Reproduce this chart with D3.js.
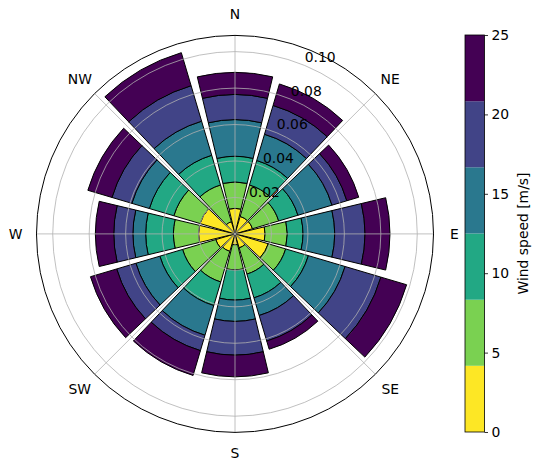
<!DOCTYPE html>
<html lang="en">
<head>
<meta charset="UTF-8">
<script src="https://d3js.org/d3.v7.min.js"></script>
<title>Wind rose</title>
<style>
  body { margin: 0; background: #fff; }
  text { font-family: "DejaVu Sans", sans-serif; font-size: 13.9px; fill: #000; }
</style>
</head>
<body>
<svg id="rose" width="541" height="469"></svg>
<script>
// bar directions (degrees clockwise from north)
const directions = [0, 30, 60, 90, 120, 150, 180, 210, 240, 270, 300, 330];
const compassLabels = ['N', 'NE', 'E', 'SE', 'S', 'SW', 'W', 'NW'];
const compassAngles = [0, 45, 90, 135, 180, 225, 270, 315];
const radialTicks = [0.02, 0.04, 0.06, 0.08, 0.10];
const speedEdges = [0, 4.17, 8.33, 12.5, 16.67, 20.83, 25];
const colorbarTicks = [0, 5, 10, 15, 20, 25];

// relative frequency per speed bin, one value per direction
const bin0 = [0.0140, 0.0100, 0.0100, 0.0165, 0.0190, 0.0080, 0.0060, 0.0100, 0.0110, 0.0200, 0.0200, 0.0070];
const bin1 = [0.0145, 0.0180, 0.0150, 0.0122, 0.0100, 0.0150, 0.0138, 0.0175, 0.0190, 0.0138, 0.0150, 0.0210];
const bin2 = [0.0141, 0.0140, 0.0110, 0.0086, 0.0130, 0.0136, 0.0165, 0.0135, 0.0130, 0.0152, 0.0140, 0.0170];
const bin3 = [0.0201, 0.0150, 0.0195, 0.0174, 0.0210, 0.0101, 0.0117, 0.0170, 0.0137, 0.0070, 0.0100, 0.0195];
const bin4 = [0.0138, 0.0165, 0.0085, 0.0166, 0.0205, 0.0146, 0.0185, 0.0088, 0.0110, 0.0105, 0.0114, 0.0203];
const bin5 = [0.0121, 0.0123, 0.0068, 0.0137, 0.0147, 0.0047, 0.0119, 0.0142, 0.0150, 0.0101, 0.0138, 0.0189];
const bins = [bin0, bin1, bin2, bin3, bin4, bin5];

const svg = d3.select('svg#rose');
const cx = 235, cy = 233.9;
const outerR = 198.5;
const rMax = 0.1089;

const rScale = d3.scaleLinear().domain([0, rMax]).range([0, outerR]);
const toRad = d3.scaleLinear().domain([0, 360]).range([0, 2 * Math.PI]);
const color = i => d3.interpolateViridis(1 - i / (bins.length - 1));

// table for d3.stack
const keys = bins.map((b, i) => 'b' + i);
const rows = directions.map((d, j) => {
    const row = {dir: d};
    bins.forEach((b, i) => row['b' + i] = b[j]);
    return row;
});
const stacked = d3.stack().keys(keys)(rows);

const polar = svg.append('g').attr('transform', `translate(${cx},${cy})`);

const halfWidth = 0.9 * 360 / directions.length / 2;
const arc = d3.arc()
    .innerRadius(d => rScale(d[0]))
    .outerRadius(d => rScale(d[1]))
    .startAngle(d => toRad(d.data.dir - halfWidth))
    .endAngle(d => toRad(d.data.dir + halfWidth));

stacked.forEach((layer, i) => {
    polar.append('g')
        .selectAll('path')
        .data(layer)
        .enter()
        .append('path')
        .attr('d', arc)
        .attr('fill', color(i))
        .attr('stroke', '#000')
        .attr('stroke-width', 1)
        .attr('stroke-linejoin', 'miter');
});

// gridlines on top of bars (matplotlib default)
polar.append('g')
    .selectAll('circle')
    .data(radialTicks)
    .enter()
    .append('circle')
    .attr('r', d => rScale(d))
    .attr('fill', 'none')
    .attr('stroke', '#b0b0b0')
    .attr('stroke-width', 0.8);

polar.append('g')
    .selectAll('line')
    .data(compassAngles)
    .enter()
    .append('line')
    .attr('x1', 0).attr('y1', 0)
    .attr('x2', d => outerR * Math.sin(toRad(d)))
    .attr('y2', d => -outerR * Math.cos(toRad(d)))
    .attr('stroke', '#b0b0b0')
    .attr('stroke-width', 0.8);

// outer spine
polar.append('circle')
    .attr('r', outerR)
    .attr('fill', 'none')
    .attr('stroke', '#000')
    .attr('stroke-width', 1);

// compass labels
const labelR = outerR + 21;
polar.append('g')
    .selectAll('text')
    .data(compassLabels)
    .enter()
    .append('text')
    .attr('x', (d, i) => labelR * Math.sin(toRad(compassAngles[i])))
    .attr('y', (d, i) => -labelR * Math.cos(toRad(compassAngles[i])))
    .attr('dy', '0.36em')
    .attr('text-anchor', 'middle')
    .text(d => d);

// radial tick labels along 22.5 degrees
const rLabelAngle = toRad(22.5);
polar.append('g')
    .selectAll('text')
    .data(radialTicks)
    .enter()
    .append('text')
    .attr('x', d => rScale(d) * Math.sin(rLabelAngle))
    .attr('y', d => -rScale(d) * Math.cos(rLabelAngle) - 3.5)
    .attr('text-anchor', 'start')
    .text(d => d.toFixed(2));

// colorbar
const cbX = 465, cbW = 19.5;
const cbScale = d3.scaleLinear().domain([0, 25]).range([432, 35]);
const cb = svg.append('g');
cb.selectAll('rect')
    .data(d3.pairs(speedEdges))
    .enter()
    .append('rect')
    .attr('x', cbX)
    .attr('width', cbW)
    .attr('y', d => cbScale(d[1]))
    .attr('height', d => cbScale(d[0]) - cbScale(d[1]))
    .attr('fill', (d, i) => color(i));

cb.append('rect')
    .attr('x', cbX).attr('y', cbScale(25))
    .attr('width', cbW).attr('height', cbScale(0) - cbScale(25))
    .attr('fill', 'none').attr('stroke', '#000').attr('stroke-width', 0.8);

const cbAxis = d3.axisRight(cbScale)
    .tickValues(colorbarTicks)
    .tickSize(3.5)
    .tickPadding(3.5);
const cbAxisG = cb.append('g')
    .attr('transform', `translate(${cbX + cbW},0)`)
    .call(cbAxis);
cbAxisG.select('.domain').remove();
cbAxisG.selectAll('text').style('font-size', '13.9px').style('font-family', '"DejaVu Sans", sans-serif');
cbAxisG.selectAll('line').attr('stroke', '#000').attr('stroke-width', 0.8);

svg.append('text')
    .attr('transform', 'translate(523,233.5) rotate(-90)')
    .attr('text-anchor', 'middle')
    .attr('dy', '0.36em')
    .text('Wind speed [m/s]');
</script>
</body>
</html>
